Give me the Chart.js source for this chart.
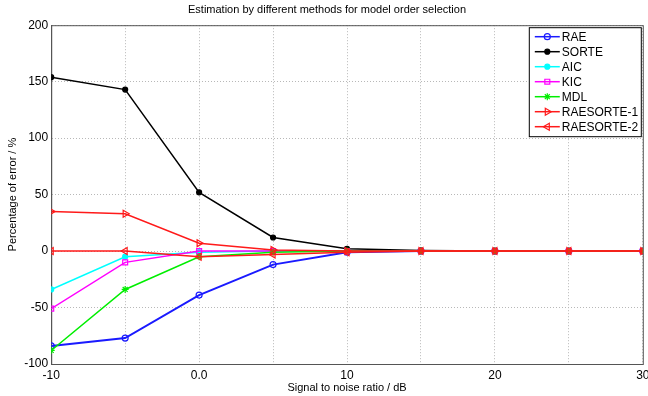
<!DOCTYPE html>
<html>
<head>
<meta charset="utf-8">
<script src="https://cdn.jsdelivr.net/npm/chart.js@4.4.0/dist/chart.umd.min.js"></script>
<style>
    html, body { margin: 0; padding: 0; background: #fff; }
    #wrap { width: 648px; height: 396px; }
</style>
</head>
<body>
<div id="wrap"><canvas id="chart" width="648" height="396"></canvas></div>
<script>
const snrValues = [-10, -5, 0, 5, 10, 15, 20, 25, 30];
const raeValues = [-84, -77, -39, -12, -1, 0, 0, 0, 0];
const sorteValues = [154, 143, 52, 12, 2, 0.5, 0, 0, 0];
const aicValues = [-34, -5, -1, 0, 0, 0, 0, 0, 0];
const kicValues = [-51, -10, 0, 0, 0, 0, 0, 0, 0];
const mdlValues = [-88, -34, -5, -1, 0, 0, 0, 0, 0];
const raesorte1Values = [35, 33, 7, 1, 0, 0, 0, 0, 0];
const raesorte2Values = [0, 0, -5, -3, -1, 0, 0, 0, 0];
const yTicks = [-100, -50, 0, 50, 100, 150, 200];

const FONT = 'Liberation Sans, Arial, sans-serif';

function toPoints(values) {
    return values.map((v, i) => ({ x: snrValues[i], y: v }));
}

function makeSeries(label, values, color, style, extra) {
    return Object.assign({
        label: label,
        data: toPoints(values),
        borderColor: color,
        backgroundColor: color,
        borderWidth: 1.5,
        pointStyle: style,
        pointRadius: 3,
        pointBorderWidth: 1.2,
        pointBorderColor: color,
        pointBackgroundColor: color,
        tension: 0
    }, extra || {});
}

const NONE = 'rgba(0,0,0,0)';
const datasets = [
    makeSeries('RAE', raeValues, '#1a1aff', 'circle', { borderWidth: 2, pointBackgroundColor: NONE }),
    makeSeries('SORTE', sorteValues, '#000000', 'circle', { pointRadius: 2.5 }),
    makeSeries('AIC', aicValues, '#00ffff', 'circle', { pointRadius: 2.5 }),
    makeSeries('KIC', kicValues, '#ff00ff', 'rect', { pointRadius: 3.5, pointBackgroundColor: NONE }),
    makeSeries('MDL', mdlValues, '#00ee00', 'star', { pointRadius: 3.5 }),
    makeSeries('RAESORTE-1', raesorte1Values, '#ff1a1a', 'triangle', { pointRotation: 90, pointBackgroundColor: NONE, pointRadius: 4 }),
    makeSeries('RAESORTE-2', raesorte2Values, '#ff1a1a', 'triangle', { pointRotation: -90, pointBackgroundColor: NONE, pointRadius: 4 })
];
// later series on top, as in the matlab figure
datasets.forEach((ds, i) => { ds.order = datasets.length - i; });

// legend drawn inside the plot, boxed
const boxLegend = {
    id: 'boxLegend',
    afterDraw(chart) {
        const ctx = chart.ctx;
        const area = chart.chartArea;
        const w = 112, h = 109;
        const x0 = area.right - w - 2;
        const y0 = area.top + 2;
        ctx.save();
        ctx.fillStyle = '#fff';
        ctx.fillRect(x0, y0, w, h);
        ctx.strokeStyle = '#000';
        ctx.lineWidth = 1;
        ctx.strokeRect(x0 + 0.5, y0 + 0.5, w, h);
        ctx.font = '12px ' + FONT;
        ctx.textBaseline = 'middle';
        chart.data.datasets.forEach((ds, i) => {
            const cy = y0 + 9.5 + i * 15;
            ctx.strokeStyle = ds.borderColor;
            ctx.lineWidth = 1.5;
            ctx.beginPath();
            ctx.moveTo(x0 + 6, cy);
            ctx.lineTo(x0 + 31, cy);
            ctx.stroke();
            ctx.fillStyle = ds.pointBackgroundColor;
            ctx.strokeStyle = ds.pointBorderColor;
            ctx.lineWidth = 1.2;
            Chart.helpers.drawPoint(ctx, {
                pointStyle: ds.pointStyle,
                radius: ds.pointRadius,
                rotation: ds.pointRotation || 0,
                borderWidth: 1.2
            }, x0 + 18.5, cy);
            ctx.fillStyle = '#000';
            ctx.fillText(ds.label, x0 + 33, cy + 0.5);
        });
        ctx.restore();
    }
};

const frame = {
    id: 'frame',
    beforeDatasetsDraw(chart) {
        const a = chart.chartArea;
        const ctx = chart.ctx;
        ctx.save();
        ctx.strokeStyle = '#555';
        ctx.lineWidth = 1;
        ctx.strokeRect(a.left + 0.5, a.top + 0.5, a.right - a.left, a.bottom - a.top);
        ctx.restore();
    }
};

const chart = new Chart(document.getElementById('chart').getContext('2d'), {
    type: 'line',
    data: { datasets: datasets },
    options: {
        responsive: false,
        animation: false,
        layout: { padding: { left: 6, right: 0, top: 0, bottom: 3 } },
        plugins: {
            legend: { display: false },
            tooltip: { enabled: false },
            title: {
                display: true,
                text: 'Estimation by different methods for model order selection',
                color: '#000',
                font: { family: FONT, size: 11, weight: 'normal' },
                padding: { top: 3, bottom: 9 }
            }
        },
        scales: {
            x: {
                type: 'linear',
                min: -10,
                max: 30,
                afterFit: scale => { scale.paddingRight = 3; },
                ticks: {
                    stepSize: 5,
                    color: '#000',
                    font: { family: FONT, size: 12, lineHeight: 1 },
                    padding: 6,
                    autoSkip: false,
                    maxRotation: 0,
                    callback: v => (v % 10 === 0 ? (v === 0 ? '0.0' : String(v)) : '')
                },
                grid: { color: '#b8b8b8', lineWidth: 1, drawTicks: false },
                border: { color: '#555', width: 1, dash: [1, 2] },
                title: {
                    display: true,
                    text: 'Signal to noise ratio / dB',
                    color: '#000',
                    font: { family: FONT, size: 11, lineHeight: 1 },
                    padding: { top: -6, bottom: 0 }
                }
            },
            y: {
                min: -100,
                max: 200,
                afterBuildTicks: axis => { axis.ticks = yTicks.map(v => ({ value: v })); },
                ticks: {
                    color: '#000',
                    font: { family: FONT, size: 12 },
                    padding: 3
                },
                grid: { color: '#b8b8b8', lineWidth: 1, drawTicks: false },
                border: { color: '#555', width: 1, dash: [1, 2] },
                title: {
                    display: true,
                    text: 'Percentage of error / %',
                    color: '#000',
                    font: { family: FONT, size: 11 },
                    padding: { top: 0, bottom: 2 }
                }
            }
        }
    },
    plugins: [boxLegend, frame]
});
</script>
</body>
</html>
